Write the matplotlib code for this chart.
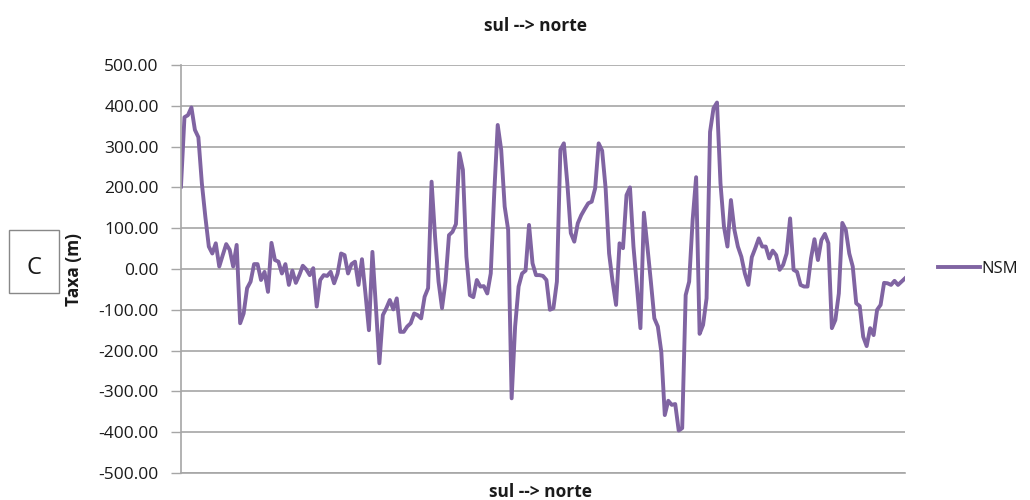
import matplotlib
matplotlib.use('Agg')
import matplotlib.pyplot as plt
from matplotlib.patches import Rectangle

plt.rcParams['font.family'] = ['Open Sans', 'DejaVu Sans']

# NSM (m) per transect, sul -> norte
nsm = [
    202, 372, 377, 396, 341, 323, 210, 128, 55, 38, 63, 6, 34, 61, 47, 6, 59,
    -133, -109, -47, -31, 12, 12, -27, -7, -56, 64, 22, 18, -11, 12, -39, -4,
    -34, -15, 8, -1, -15, 2, -92, -27, -15, -17, -7,
    -35, -11, 38, 34, -11, 12, 18, -39, 24, -60, -150, 42, -92, -231, -113,
    -96, -76, -99, -72, -154, -154, -141, -133, -109, -113, -121, -68, -47,
    214, 79, -31, -96, -31, 83, 91, 110, 284, 243, 30, -64, -69, -27, -43,
    -42, -60, -11, 186, 353, 292, 153, 96,
    -317, -141, -43, -11, -4, 108, 14, -15, -15, -17, -27, -100, -96, -31,
    292, 308, 210, 88, 67, 112, 132, 147, 161, 165, 198, 308, 290, 198, 38,
    -31, -88, 63, 51, 181, 200, 55, -43, -145, 138, 55, -31, -121, -141,
    -203, -358, -323, -333, -331, -396, -390, -64, -31, 120, 225,
    -159, -137, -72, 336, 394, 408, 210, 104, 55, 169, 96, 55, 30, -11, -39,
    29, 51, 75, 55, 55, 26, 45, 34, -2, 10, 38, 124, -2, -7, -39, -43, -43,
    26, 73, 22, 71, 86, 63, -145, -125, -60, 113, 96, 38, 6, -84, -91, -166,
    -189, -145, -162, -100, -88, -34, -35, -39, -29, -39, -31, -23,
]
transecto = list(range(1, len(nsm) + 1))
y_ticks = [-500, -400, -300, -200, -100, 0, 100, 200, 300, 400, 500]

fig = plt.figure(figsize=(10.3, 5), dpi=100)
ax = fig.add_axes([0.1757, 0.054, 0.7029, 0.816])

ax.plot(transecto, nsm, color='#8064A2', linewidth=2.8, label='NSM',
        solid_joinstyle='round')

ax.set_xlim(transecto[0], transecto[-1])
ax.set_ylim(-500, 500)
ax.set_yticks(y_ticks)
ax.set_yticklabels([f'{v:.2f}' for v in y_ticks], fontsize=12.5, color='#1a1a1a')
ax.set_xticks([])
ax.grid(axis='y', color='#a6a6a6', linewidth=1.2)
ax.set_axisbelow(True)
ax.tick_params(axis='y', length=7, width=1, color='#a6a6a6', pad=9)
for side in ['top', 'right']:
    ax.spines[side].set_visible(False)
ax.spines['left'].set_color('#a6a6a6')
ax.spines['left'].set_linewidth(1.2)
ax.spines['bottom'].set_color('#a6a6a6')
ax.spines['bottom'].set_linewidth(1.2)

fig.text(0.52, 0.948, 'sul --> norte', ha='center', va='center',
         fontsize=12.5, fontweight='bold', color='#1a1a1a')
fig.text(0.525, 0.016, 'sul --> norte', ha='center', va='center',
         fontsize=12.5, fontweight='bold', color='#1a1a1a')
fig.text(0.072, 0.46, 'Taxa (m)', ha='center', va='center', rotation=90,
         fontsize=12.5, fontweight='bold', color='#1a1a1a')

# boxed panel letter
fig.patches.append(Rectangle((9 / 1030, 1 - 293 / 500), 50 / 1030, 63 / 500,
                             transform=fig.transFigure, fill=False,
                             edgecolor='#888888', linewidth=1))
fig.text(34 / 1030, 1 - 268 / 500, 'C', ha='center', va='center', fontsize=17,
         color='#1a1a1a')

ax.legend(loc='center left', bbox_to_anchor=(1.025, 0.5), frameon=False,
          fontsize=12, handlelength=2.5, handletextpad=0.1,
          labelcolor='#1a1a1a')

fig.savefig('out.png', dpi=100)
